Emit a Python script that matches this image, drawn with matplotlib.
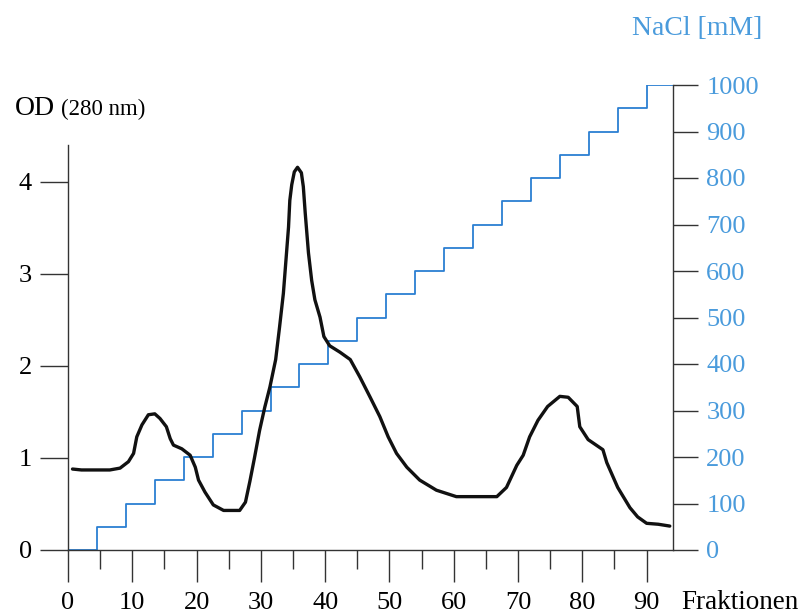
import matplotlib
matplotlib.use("Agg")
import matplotlib.pyplot as plt
from matplotlib.ticker import MultipleLocator

plt.rcParams['font.family'] = ['Liberation Serif', 'DejaVu Serif']

# OD 280 nm elution profile
frac = [0.7, 2.1, 6.5, 8.1, 9.4, 10.2, 10.7, 11.5, 12.5, 13.5, 14.3, 15.3,
        15.9, 16.4, 17.7, 19.0, 19.8, 20.3, 21.3, 22.6, 24.2, 26.7, 27.6,
        28.3, 29.0, 29.8, 30.6, 31.4, 32.3, 32.9, 33.5, 33.9, 34.3, 34.5,
        34.8, 35.2, 35.7, 36.3, 36.6, 36.9, 37.4, 37.9, 38.4, 39.2, 39.8,
        40.7, 42.3, 43.9, 45.4, 47.0, 48.5, 49.8, 51.1, 52.7, 54.7, 57.3,
        60.4, 66.7, 68.2, 69.8, 70.8, 71.8, 73.1, 74.6, 76.5, 77.8, 79.2,
        79.6, 80.9, 83.2, 83.8, 85.5, 87.4, 88.6, 90.0, 91.8, 93.6]
od = [0.88, 0.87, 0.87, 0.89, 0.96, 1.05, 1.23, 1.36, 1.47, 1.48, 1.43, 1.34,
      1.21, 1.14, 1.10, 1.03, 0.90, 0.76, 0.63, 0.49, 0.43, 0.43, 0.52,
      0.75, 1.00, 1.30, 1.55, 1.77, 2.07, 2.42, 2.79, 3.15, 3.51, 3.80,
      3.97, 4.11, 4.16, 4.10, 3.95, 3.66, 3.23, 2.93, 2.72, 2.53, 2.32,
      2.22, 2.15, 2.07, 1.88, 1.66, 1.45, 1.23, 1.05, 0.90, 0.76, 0.65,
      0.58, 0.58, 0.68, 0.92, 1.03, 1.23, 1.41, 1.56, 1.67, 1.66, 1.56,
      1.34, 1.20, 1.09, 0.95, 0.68, 0.46, 0.36, 0.29, 0.28, 0.26]

# NaCl step gradient
step_frac = [0, 4.5, 9, 13.5, 18, 22.5, 27, 31.5, 36, 40.5, 45, 49.5, 54,
             58.5, 63, 67.5, 72, 76.5, 81, 85.5, 90, 94.1]
nacl = [0, 50, 100, 150, 200, 250, 300, 350, 400, 450, 500, 550, 600, 650,
        700, 750, 800, 850, 900, 950, 1000, 1000]

blue_line = '#2b7fd2'
blue_text = '#4a9bdc'
axis_col = '#333333'

fig = plt.figure(figsize=(8.08, 6.15), dpi=100)
ax = fig.add_axes([68/808, 65/615, 605/808, 465/615])
ax2 = ax.twinx()
ax.set_zorder(ax2.get_zorder() + 1)
ax.patch.set_visible(False)

ax2.step(step_frac, nacl, where='post', color=blue_line, lw=1.3)
ax.plot(frac, od, color='#111111', lw=2.4, solid_joinstyle='round',
        solid_capstyle='round')

ax.set_xlim(0, 94.1)
ax.set_ylim(0, 465/92)
ax2.set_ylim(0, 1000)

for a in (ax, ax2):
    a.spines['top'].set_visible(False)
    for s in a.spines.values():
        s.set_color(axis_col)
        s.set_linewidth(1.0)
ax.spines['right'].set_visible(False)
ax2.spines['left'].set_visible(False)
ax2.spines['bottom'].set_visible(False)
ax.spines['left'].set_bounds(0, 4.4)
ax2.spines['right'].set_bounds(0, 1000)

ax.xaxis.set_minor_locator(MultipleLocator(5))
ax.set_xticks([0, 10, 20, 30, 40, 50, 60, 70, 80, 90])
ax.set_yticks([0, 1, 2, 3, 4])
ax2.set_yticks([0, 100, 200, 300, 400, 500, 600, 700, 800, 900, 1000])

ax.tick_params(axis='x', which='major', direction='out', length=23, width=1.0,
               color=axis_col, labelsize=19, pad=7)
ax.tick_params(axis='x', which='minor', direction='out', length=13.5,
               width=1.0, color=axis_col)
ax.tick_params(axis='y', direction='out', length=20, width=1.0,
               color=axis_col, labelsize=19, pad=6)
ax2.tick_params(axis='y', direction='out', length=18, width=1.0,
                color=axis_col, labelsize=19, labelcolor=blue_text, pad=6)

fig.text(15/808, 1 - 115/615, 'OD', fontsize=20, ha='left', va='baseline')
fig.text(61/808, 1 - 115/615, '(280 nm)', fontsize=16.5, ha='left',
         va='baseline')
fig.text(632/808, 1 - 35/615, 'NaCl [mM]', fontsize=20, color=blue_text,
         ha='left', va='baseline')
fig.text(681/808, 1 - 609/615, 'Fraktionen', fontsize=19.5, ha='left',
         va='baseline')

fig.savefig('out.png', dpi=100)
